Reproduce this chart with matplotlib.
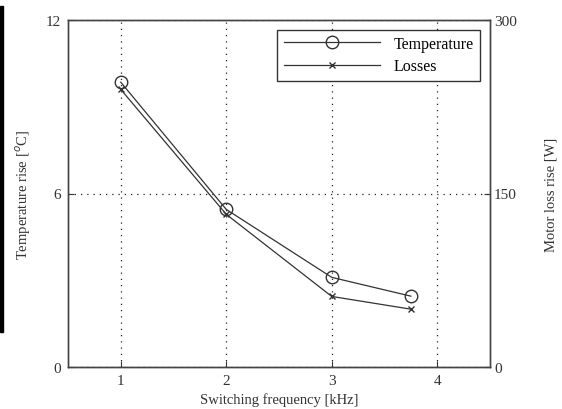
import matplotlib
matplotlib.use("Agg")
import matplotlib.pyplot as plt
import matplotlib.patches as mpatches

# Messdaten
freq = [1, 2, 3, 3.75]
temp_rise = [9.85, 5.45, 3.1, 2.45]
loss_rise = [240, 132, 61, 50]

x_ticks = [1, 2, 3, 4]
y_ticks = [0, 6, 12]
y2_ticks = [0, 150, 300]

plt.rcParams['font.family'] = ['Liberation Serif', 'DejaVu Serif']

fig = plt.figure(figsize=(5.62, 4.10), dpi=100)
ax = fig.add_axes([68 / 562, 42 / 410, 422 / 562, 347 / 410])

ax.plot(freq, temp_rise, color='#333333', lw=0.9, marker='o', ms=9,
        mfc='none', mec='#333333', mew=1.0, label='Temperature')
ax.set_xlim(0.5, 4.5)
ax.set_ylim(0, 12)
ax.set_xticks(x_ticks)
ax.set_yticks(y_ticks)
ax.grid(True, ls=(0, (1, 4)), color='#222222', lw=0.9)
ax.tick_params(direction='in', labelsize=11, colors='#333333', length=4, pad=5)
ax.set_xlabel('Switching frequency [kHz]', fontsize=10.5, color='#333333', labelpad=4)
ax.set_ylabel('Temperature rise [$^o$C]', fontsize=10.5, color='#333333', labelpad=9)

ax2 = ax.twinx()
ax2.plot(freq, loss_rise, color='#333333', lw=0.9, marker='x', ms=5,
         mew=1.0, label='Losses')
ax2.set_ylim(0, 300)
ax2.set_yticks(y2_ticks)
ax2.tick_params(direction='in', labelsize=11, colors='#333333', length=4, pad=3)
ax2.set_ylabel('Motor loss rise [W]', fontsize=10.5, color='#333333', labelpad=20)

for a in (ax, ax2):
    for s in a.spines.values():
        s.set_color('#444444')
        s.set_linewidth(1.0)

h1, l1 = ax.get_legend_handles_labels()
h2, l2 = ax2.get_legend_handles_labels()
leg = ax2.legend(h1 + h2, l1 + l2, loc='upper right', fontsize=11.5,
                 fancybox=False, edgecolor='#333333', framealpha=1,
                 handlelength=6, handletextpad=0.9, borderaxespad=0.6,
                 labelspacing=0.4)
leg.get_frame().set_linewidth(1.0)

# schwarzer Balken am linken Rand
fig.patches.append(mpatches.Rectangle((0, 77 / 410), 3 / 562, 326 / 410,
                                      transform=fig.transFigure,
                                      color='black', zorder=10))

fig.savefig('out.png', dpi=100)
